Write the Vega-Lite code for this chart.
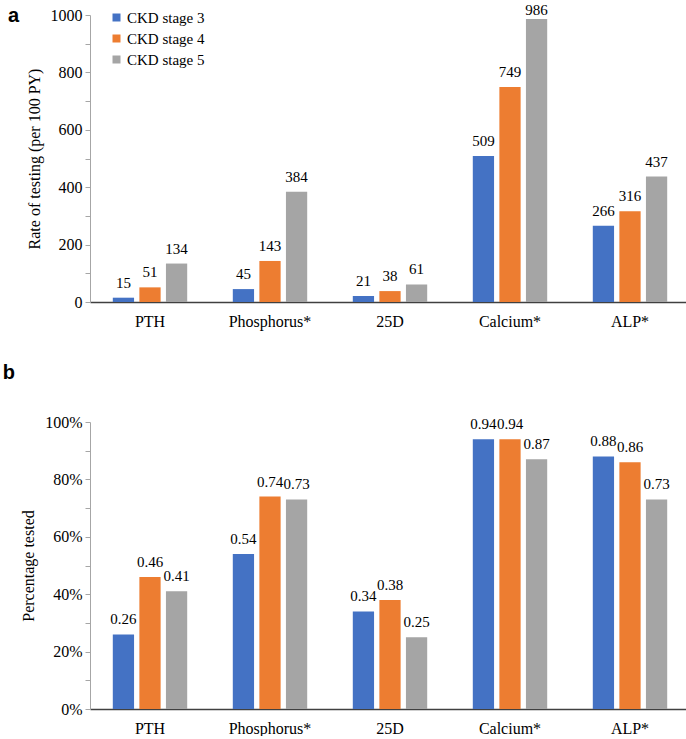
{
  "$schema": "https://vega.github.io/schema/vega-lite/v6.json",
  "padding": {"left": 2, "top": 3, "right": 0, "bottom": 0},
  "background": "white",
  "config": {
    "view": {"stroke": null},
    "font": "Liberation Serif",
    "axis": {"labelFont": "Liberation Serif", "titleFont": "Liberation Serif", "labelFontSize": 16, "titleFontSize": 16, "titleFontWeight": "normal", "labelColor": "#000", "titleColor": "#000", "grid": false},
    "legend": {"labelFont": "Liberation Serif", "labelFontSize": 15, "labelColor": "#000", "symbolType": "square", "symbolSize": 64, "symbolStrokeWidth": 0, "rowPadding": 5, "labelOffset": 3, "orient": "none", "title": null},
    "title": {"font": "Liberation Sans", "fontSize": 20, "fontWeight": "bold", "color": "#000", "anchor": "start", "frame": "bounds"}
  },
  "datasets": {
    "rate": [
      {"test": "PTH", "stage": "CKD stage 3", "value": 15},
      {"test": "PTH", "stage": "CKD stage 4", "value": 51},
      {"test": "PTH", "stage": "CKD stage 5", "value": 134},
      {"test": "Phosphorus*", "stage": "CKD stage 3", "value": 45},
      {"test": "Phosphorus*", "stage": "CKD stage 4", "value": 143},
      {"test": "Phosphorus*", "stage": "CKD stage 5", "value": 384},
      {"test": "25D", "stage": "CKD stage 3", "value": 21},
      {"test": "25D", "stage": "CKD stage 4", "value": 38},
      {"test": "25D", "stage": "CKD stage 5", "value": 61},
      {"test": "Calcium*", "stage": "CKD stage 3", "value": 509},
      {"test": "Calcium*", "stage": "CKD stage 4", "value": 749},
      {"test": "Calcium*", "stage": "CKD stage 5", "value": 986},
      {"test": "ALP*", "stage": "CKD stage 3", "value": 266},
      {"test": "ALP*", "stage": "CKD stage 4", "value": 316},
      {"test": "ALP*", "stage": "CKD stage 5", "value": 437}
    ],
    "pct": [
      {"test": "PTH", "stage": "CKD stage 3", "value": 0.26},
      {"test": "PTH", "stage": "CKD stage 4", "value": 0.46},
      {"test": "PTH", "stage": "CKD stage 5", "value": 0.41},
      {"test": "Phosphorus*", "stage": "CKD stage 3", "value": 0.54},
      {"test": "Phosphorus*", "stage": "CKD stage 4", "value": 0.74},
      {"test": "Phosphorus*", "stage": "CKD stage 5", "value": 0.73},
      {"test": "25D", "stage": "CKD stage 3", "value": 0.34},
      {"test": "25D", "stage": "CKD stage 4", "value": 0.38},
      {"test": "25D", "stage": "CKD stage 5", "value": 0.25},
      {"test": "Calcium*", "stage": "CKD stage 3", "value": 0.94},
      {"test": "Calcium*", "stage": "CKD stage 4", "value": 0.94},
      {"test": "Calcium*", "stage": "CKD stage 5", "value": 0.87},
      {"test": "ALP*", "stage": "CKD stage 3", "value": 0.88},
      {"test": "ALP*", "stage": "CKD stage 4", "value": 0.86},
      {"test": "ALP*", "stage": "CKD stage 5", "value": 0.73}
    ]
  },
  "spacing": 34,
  "vconcat": [
    {
      "width": 600,
      "height": 287,
      "data": {"name": "rate"},
      "title": {"text": "a", "offset": -23, "dx": -18, "baseline": "top"},
      "encoding": {
        "x": {"field": "test", "type": "nominal", "sort": ["PTH", "Phosphorus*", "25D", "Calcium*", "ALP*"], "scale": {"paddingInner": 0.38, "paddingOuter": 0.19}, "axis": {"title": null, "labelAngle": 0, "ticks": false, "domainColor": "#404040", "domainWidth": 1.5, "labelPadding": 11, "labelFont": "Liberation Serif", "labelFontSize": 16}},
        "xOffset": {"field": "stage", "type": "nominal", "scale": {"paddingInner": 0.2}},
        "y": {"field": "value", "type": "quantitative", "scale": {"domain": [0, 1000]}, "axis": {"title": "Rate of testing (per 100 PY)", "values": [0, 100, 200, 300, 400, 500, 600, 700, 800, 900, 1000], "labelExpr": "datum.value % 200 === 0 ? datum.label : ''", "format": "d", "labelFont": "Liberation Serif", "labelFontSize": 16, "domainColor": "#a6a6a6", "tickColor": "#a6a6a6", "tickSize": 5, "labelPadding": 3, "titlePadding": 8}}
      },
      "layer": [
        {"mark": {"type": "bar"}, "encoding": {"color": {"field": "stage", "type": "nominal", "scale": {"range": ["#4472C4", "#ED7D31", "#A5A5A5"]}, "legend": {"legendX": 19, "legendY": -5}}}},
        {"mark": {"type": "text", "baseline": "bottom", "dy": {"expr": "datum.value > 950 ? -1 : -7"}, "fontSize": 15, "font": "Liberation Serif", "color": "#000"}, "encoding": {"text": {"field": "value", "type": "quantitative", "format": "d"}}}
      ]
    },
    {
      "width": 600,
      "height": 287,
      "data": {"name": "pct"},
      "title": {"text": "b", "offset": 11, "dx": -18, "baseline": "bottom"},
      "encoding": {
        "x": {"field": "test", "type": "nominal", "sort": ["PTH", "Phosphorus*", "25D", "Calcium*", "ALP*"], "scale": {"paddingInner": 0.38, "paddingOuter": 0.19}, "axis": {"title": null, "labelAngle": 0, "ticks": false, "domainColor": "#404040", "domainWidth": 1.5, "labelPadding": 11, "labelFont": "Liberation Serif", "labelFontSize": 16}},
        "xOffset": {"field": "stage", "type": "nominal", "scale": {"paddingInner": 0.2}},
        "y": {"field": "value", "type": "quantitative", "scale": {"domain": [0, 1]}, "axis": {"title": "Percentage tested", "values": [0, 0.1, 0.2, 0.3, 0.4, 0.5, 0.6, 0.7, 0.8, 0.9, 1], "labelExpr": "round(datum.value * 10) % 2 === 0 ? datum.label : ''", "format": ".0%", "labelFont": "Liberation Serif", "labelFontSize": 16, "domainColor": "#a6a6a6", "tickColor": "#a6a6a6", "tickSize": 5, "labelPadding": 3, "titlePadding": 8}}
      },
      "layer": [
        {"mark": {"type": "bar"}, "encoding": {"color": {"field": "stage", "type": "nominal", "scale": {"range": ["#4472C4", "#ED7D31", "#A5A5A5"]}, "legend": {"legendX": 15, "legendY": -5}}}},
        {"mark": {"type": "text", "baseline": "bottom", "dy": -7, "fontSize": 15, "font": "Liberation Serif", "color": "#000"}, "encoding": {"text": {"field": "value", "type": "quantitative", "format": ".2f"}}}
      ]
    }
  ]
}
